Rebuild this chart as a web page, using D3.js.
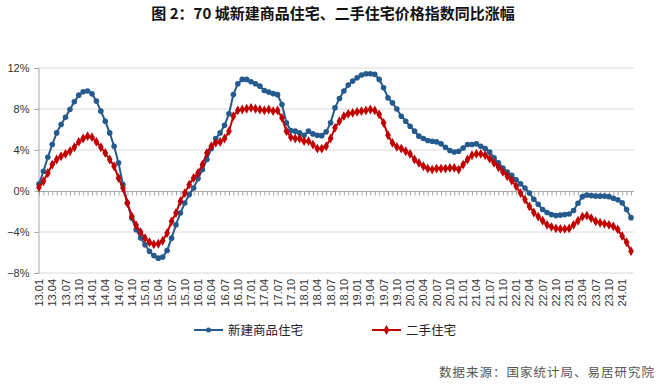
<!DOCTYPE html>
<html>
<head>
<meta charset="utf-8">
<script src="https://cdn.jsdelivr.net/npm/d3@7"></script>
<style>
  body { margin: 0; background: #fff; }
  svg { display: block; }
</style>
</head>
<body>
<div id="chart"></div>
<script>
// monthly YoY change, 2013.01 - 2024.03 (%)
const startYear = 2013
const monthCount = 135

const newHomes = [
  0.68, 1.93, 3.29, 4.53, 5.67, 6.49, 7.2, 7.95, 8.7, 9.35, 9.68, 9.75,
  9.48, 8.77, 7.79, 6.81, 5.67, 4.37, 2.74, 0.62, -1.17, -2.64, -3.77, -4.59,
  -5.24, -5.89, -6.3, -6.55, -6.45, -5.8, -4.6, -3.3, -2.15, -1.17, -0.35, 0.3,
  1.21, 2.09, 3.07, 4.14, 5.12, 5.67, 6.42, 7.53, 9.42, 10.46, 10.89, 10.89,
  10.66, 10.46, 10.23, 9.81, 9.65, 9.5, 9.4, 8.44, 6.65, 5.9, 5.84, 5.67,
  5.44, 5.84, 5.57, 5.44, 5.4, 5.77, 6.65, 8.11, 9.03, 9.75, 10.33, 10.72,
  11.05, 11.31, 11.44, 11.44, 11.38, 10.89, 10.07, 9.09, 8.6, 8.0, 7.3, 6.81,
  6.32, 5.84, 5.35, 5.12, 4.93, 4.86, 4.79, 4.6, 4.27, 3.95, 3.81, 3.88,
  4.2, 4.53, 4.53, 4.6, 4.37, 4.14, 3.81, 3.23, 2.74, 2.25, 1.86, 1.53,
  1.1, 0.7, 0.3, -0.2, -0.8, -1.3, -1.8, -2.1, -2.3, -2.4, -2.35, -2.3,
  -2.25, -1.9, -1.2, -0.55, -0.4, -0.45, -0.5, -0.5, -0.5, -0.55, -0.7, -0.85,
  -1.15, -1.8, -2.6
]

const resaleHomes = [
  0.36, 0.95, 1.76, 2.58, 3.07, 3.39, 3.62, 3.88, 4.27, 4.79, 5.12, 5.35,
  5.25, 4.79, 4.27, 3.71, 3.07, 2.41, 1.27, 0.29, -1.17, -2.47, -3.35, -4.01,
  -4.6, -5.0, -5.2, -5.15, -4.85, -4.1, -2.96, -2.15, -1.0, -0.2, 0.62, 1.27,
  1.76, 2.58, 3.71, 4.37, 4.7, 4.79, 5.12, 5.84, 7.3, 7.86, 7.95, 8.02,
  8.11, 8.02, 7.95, 7.86, 7.95, 7.79, 7.86, 7.14, 5.84, 5.25, 5.12, 5.12,
  4.86, 4.86, 4.53, 4.14, 4.14, 4.37, 5.12, 6.16, 6.81, 7.3, 7.53, 7.62,
  7.72, 7.79, 7.86, 7.95, 7.86, 7.47, 6.65, 5.44, 4.69, 4.3, 4.14, 3.88,
  3.62, 3.07, 2.74, 2.41, 2.19, 2.09, 2.19, 2.19, 2.19, 2.25, 2.25, 2.09,
  2.58, 3.07, 3.49, 3.62, 3.62, 3.49, 3.17, 2.74, 2.32, 1.86, 1.44, 1.02,
  0.46, -0.2, -0.84, -1.5, -2.1, -2.5, -2.9, -3.3, -3.5, -3.65, -3.7, -3.7,
  -3.65, -3.3, -2.9, -2.5, -2.4, -2.65, -2.95, -3.1, -3.2, -3.3, -3.45, -3.75,
  -4.4, -5.0, -5.87
]

const yTicks = [-8, -4, 0, 4, 8, 12]
const seriesNames = ['新建商品住宅', '二手住宅']

const months = d3.range(monthCount).map(i => {
  const y = startYear + Math.floor(i / 12)
  const m = (i % 12) + 1
  return `${String(y).slice(2)}.${String(m).padStart(2, '0')}`
})
const tickLabels = months.filter((d, i) => i % 3 === 0)

const width = 660
const height = 389
const blue = '#245a8d'
const red = '#c00000'
const latin = 'Liberation Sans, Arial, sans-serif'
const cjk = '"Noto Sans CJK SC", sans-serif'

const svg = d3.select('#chart').append('svg')
  .attr('width', width)
  .attr('height', height)

const x = d3.scalePoint()
  .domain(months)
  .range([39, 631])

const y = d3.scaleLinear()
  .domain([-8, 12])
  .range([273, 68])

// title
svg.append('text')
  .attr('x', 333)
  .attr('y', 19)
  .attr('text-anchor', 'middle')
  .style('font-family', cjk)
  .style('font-size', '15px')
  .style('font-weight', 'bold')
  .style('fill', '#111')
  .text('图 2：70 城新建商品住宅、二手住宅价格指数同比涨幅')

// gridlines
svg.append('g')
  .selectAll('line')
  .data(yTicks.filter(d => d !== 0))
  .join('line')
  .attr('x1', 38)
  .attr('x2', 634)
  .attr('y1', d => y(d))
  .attr('y2', d => y(d))
  .attr('stroke', '#d9d9d9')
  .attr('stroke-width', 1)

// y axis
const yAxis = svg.append('g')
  .attr('transform', 'translate(38.5,0)')
  .call(d3.axisLeft(y).tickValues(yTicks).tickSize(4).tickFormat(d => `${d < 0 ? '−' : ''}${Math.abs(d)}%`))
yAxis.select('.domain').attr('stroke', '#a6a6a6')
yAxis.selectAll('.tick line').attr('stroke', '#a6a6a6')
yAxis.selectAll('.tick text')
  .attr('x', -9)
  .style('font-family', latin)
  .style('font-size', '11px')
  .style('fill', '#333')

// x axis along 0%
const xAxis = svg.append('g')
  .attr('transform', `translate(0,${Math.round(y(0)) + 0.5})`)
  .call(d3.axisBottom(x).tickSize(4).tickSizeOuter(0).tickFormat(''))
xAxis.select('.domain').attr('stroke', '#a6a6a6').attr('d', 'M38,0.5V0H634')
xAxis.selectAll('.tick line').attr('stroke', '#a6a6a6')

// x labels at the bottom, rotated
svg.append('g')
  .selectAll('text')
  .data(tickLabels)
  .join('text')
  .attr('transform', d => `translate(${x(d) + 4},279) rotate(-90)`)
  .attr('text-anchor', 'end')
  .style('font-family', latin)
  .style('font-size', '11px')
  .style('fill', '#333')
  .text(d => d)

// lines
const line = d3.line()
  .x((d, i) => x(months[i]))
  .y(d => y(d))

svg.append('path')
  .datum(newHomes)
  .attr('d', line)
  .attr('fill', 'none')
  .attr('stroke', blue)
  .attr('stroke-width', 2)

svg.append('g')
  .selectAll('circle')
  .data(newHomes)
  .join('circle')
  .attr('cx', (d, i) => x(months[i]))
  .attr('cy', d => y(d))
  .attr('r', 2.8)
  .attr('fill', blue)

svg.append('path')
  .datum(resaleHomes)
  .attr('d', line)
  .attr('fill', 'none')
  .attr('stroke', red)
  .attr('stroke-width', 2)

const diamond = d3.symbol().type(d3.symbolDiamond).size(28)
svg.append('g')
  .selectAll('path')
  .data(resaleHomes)
  .join('path')
  .attr('d', diamond)
  .attr('transform', (d, i) => `translate(${x(months[i])},${y(d)})`)
  .attr('fill', red)

// legend
const legendItems = [
  { name: seriesNames[0], colour: blue, x: 194, marker: 'circle' },
  { name: seriesNames[1], colour: red, x: 372, marker: 'diamond' }
]
const legendY = 330
const gLegend = svg.append('g')
legendItems.forEach(item => {
  gLegend.append('line')
    .attr('x1', item.x)
    .attr('x2', item.x + 29)
    .attr('y1', legendY)
    .attr('y2', legendY)
    .attr('stroke', item.colour)
    .attr('stroke-width', 2)
  if (item.marker === 'circle') {
    gLegend.append('circle')
      .attr('cx', item.x + 14.5)
      .attr('cy', legendY)
      .attr('r', 2.5)
      .attr('fill', item.colour)
  } else {
    gLegend.append('path')
      .attr('d', diamond)
      .attr('transform', `translate(${item.x + 14.5},${legendY})`)
      .attr('fill', item.colour)
  }
  gLegend.append('text')
    .attr('x', item.x + 34)
    .attr('y', legendY + 4.5)
    .style('font-family', cjk)
    .style('font-size', '12.5px')
    .style('fill', '#222')
    .text(item.name)
})

// source
svg.append('text')
  .attr('x', 655)
  .attr('y', 377)
  .attr('text-anchor', 'end')
  .style('font-family', cjk)
  .style('font-size', '12.5px')
  .style('letter-spacing', '1px')
  .style('fill', '#555')
  .text('数据来源：国家统计局、易居研究院')
</script>
</body>
</html>
